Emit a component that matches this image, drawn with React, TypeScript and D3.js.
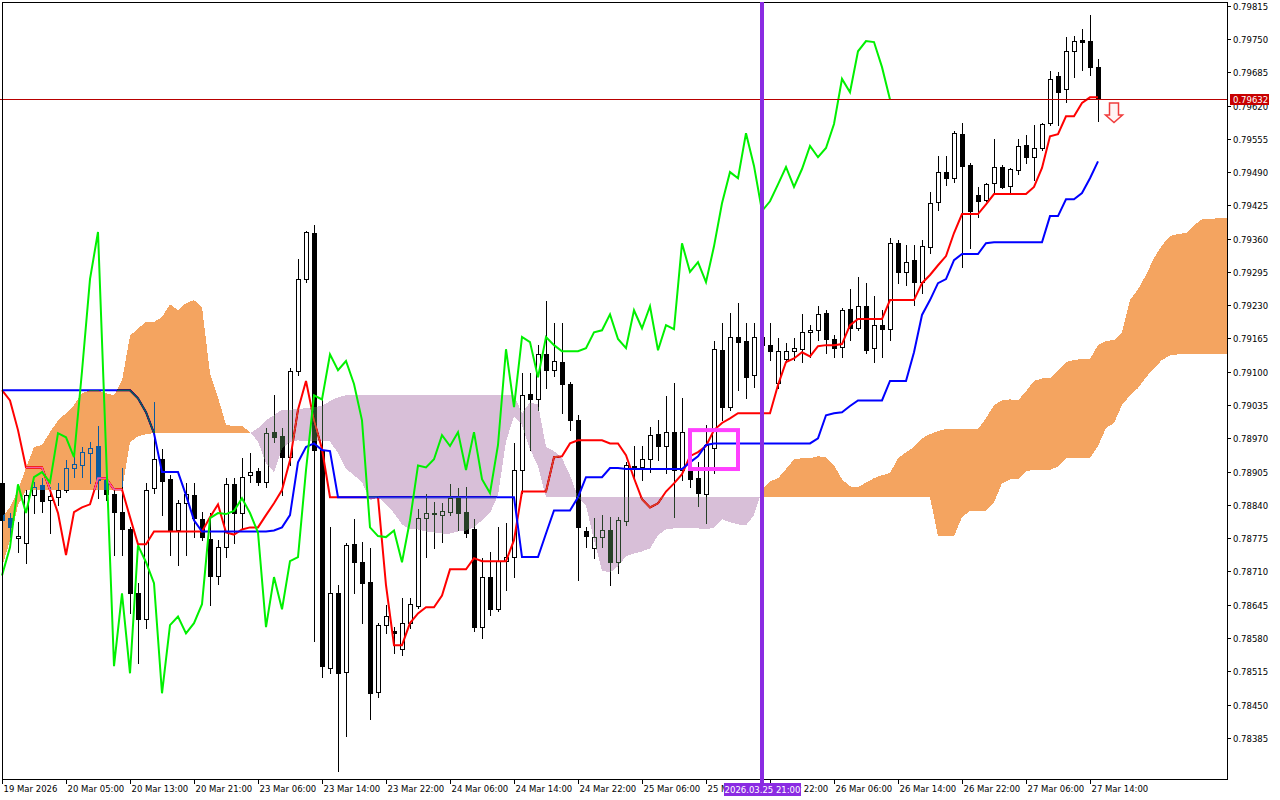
import React from "react";
import * as d3 from "d3";

// ---------- data ----------
const priceTicks = ["0.79815","0.79750","0.79685","0.79620","0.79555","0.79490","0.79425","0.79360","0.79295","0.79230","0.79165","0.79100","0.79035","0.78970","0.78905","0.78840","0.78775","0.78710","0.78645","0.78580","0.78515","0.78450","0.78385"];
const timeTickBars = [0, 8, 16, 24, 32, 40, 48, 56, 64, 72, 80, 88, 96, 104, 112, 120, 128, 136];
const timeTickLabels = ["19 Mar 2026","20 Mar 05:00","20 Mar 13:00","20 Mar 21:00","23 Mar 06:00","23 Mar 14:00","23 Mar 22:00","24 Mar 06:00","24 Mar 14:00","24 Mar 22:00","25 Mar 06:00","25 Mar 14:00","25 Mar 22:00","26 Mar 06:00","26 Mar 14:00","26 Mar 22:00","27 Mar 06:00","27 Mar 14:00"];

const open = [
0.78882,0.78814,0.78775,0.78765,0.78859,0.78878,0.78849,0.78855,0.78870,0.78912,
0.78917,0.78941,0.78955,0.78888,0.78861,0.78826,0.78792,0.78667,0.78618,0.78872,
0.78929,0.78890,0.78790,0.78843,0.78859,0.78812,0.78773,0.78702,0.78757,0.78880,
0.78824,0.78898,0.78906,0.78884,0.78982,0.78974,0.78933,0.79101,0.79281,0.79371,
0.78947,0.78521,0.78667,0.78513,0.78763,0.78728,0.78689,0.78474,0.78605,0.78593,
0.78558,0.78609,0.78642,0.78814,0.78824,0.78820,0.78826,0.78855,0.78826,0.78792,
0.78601,0.78699,0.78636,0.78730,0.78738,0.78908,0.79056,0.79046,0.79134,0.79103,
0.79119,0.79076,0.79005,0.78788,0.78755,0.78777,0.78790,0.78728,0.78808,0.78915,
0.78913,0.78929,0.78978,0.78955,0.78982,0.78908,0.78908,0.78892,0.78861,0.78951,
0.79142,0.79031,0.79168,0.79160,0.79093,0.79168,0.79152,0.79078,0.79125,0.79140,
0.79144,0.79177,0.79181,0.79214,0.79164,0.79148,0.79222,0.79185,0.79228,0.79146,
0.79191,0.79183,0.79351,0.79295,0.79318,0.79275,0.79343,0.79431,0.79490,0.79478,
0.79564,0.79504,0.79445,0.79435,0.79468,0.79500,0.79463,0.79494,0.79543,0.79519,
0.79537,0.79586,0.79678,0.79652,0.79726,0.79748,0.79746,0.79695];
const high = [
0.78888,0.78824,0.78806,0.78869,0.78884,0.78892,0.78874,0.78882,0.78927,0.78935,
0.78953,0.78962,0.78994,0.78896,0.78872,0.78912,0.78796,0.78687,0.78882,0.79040,
0.78949,0.78898,0.78849,0.78882,0.78882,0.78826,0.78824,0.78771,0.78892,0.78892,
0.78931,0.78941,0.78912,0.78990,0.79054,0.78990,0.79107,0.79320,0.79375,0.79386,
0.79044,0.78796,0.78683,0.78765,0.78812,0.78767,0.78755,0.78609,0.78644,0.78601,
0.78659,0.78659,0.78831,0.78861,0.78845,0.78843,0.78880,0.78872,0.78874,0.78812,
0.78736,0.78747,0.78796,0.78804,0.78960,0.79097,0.79097,0.79152,0.79238,0.79195,
0.79195,0.79080,0.79015,0.78796,0.78814,0.78820,0.78816,0.78816,0.78923,0.78955,
0.78955,0.78992,0.79005,0.79052,0.79078,0.79048,0.78927,0.78923,0.78996,0.79160,
0.79195,0.79214,0.79234,0.79195,0.79195,0.79191,0.79195,0.79166,0.79156,0.79166,
0.79212,0.79191,0.79228,0.79220,0.79172,0.79224,0.79261,0.79285,0.79273,0.79248,
0.79220,0.79361,0.79357,0.79347,0.79347,0.79357,0.79451,0.79521,0.79521,0.79570,
0.79586,0.79507,0.79461,0.79468,0.79554,0.79504,0.79498,0.79554,0.79562,0.79582,
0.79586,0.79687,0.79685,0.79754,0.79756,0.79770,0.79797,0.79711];
const low = [
0.78800,0.78777,0.78747,0.78726,0.78824,0.78826,0.78786,0.78839,0.78866,0.78894,
0.78894,0.78882,0.78853,0.78849,0.78742,0.78742,0.78628,0.78532,0.78599,0.78863,
0.78820,0.78742,0.78722,0.78742,0.78777,0.78771,0.78644,0.78685,0.78738,0.78765,
0.78794,0.78884,0.78878,0.78874,0.78962,0.78859,0.78917,0.79093,0.79275,0.78575,
0.78503,0.78511,0.78321,0.78388,0.78667,0.78609,0.78421,0.78464,0.78589,0.78550,
0.78546,0.78599,0.78638,0.78738,0.78755,0.78767,0.78820,0.78790,0.78777,0.78593,
0.78579,0.78624,0.78632,0.78673,0.78699,0.78863,0.78947,0.79026,0.79068,0.79091,
0.79019,0.78986,0.78693,0.78757,0.78736,0.78757,0.78683,0.78706,0.78800,0.78888,
0.78888,0.78904,0.78927,0.78902,0.78816,0.78888,0.78874,0.78837,0.78804,0.78902,
0.79005,0.79026,0.79064,0.79048,0.79070,0.79132,0.79123,0.79068,0.79119,0.79123,
0.79119,0.79128,0.79162,0.79136,0.79128,0.79128,0.79162,0.79181,0.79136,0.79119,
0.79128,0.79162,0.79273,0.79269,0.79230,0.79254,0.79332,0.79416,0.79465,0.79470,
0.79304,0.79341,0.79402,0.79433,0.79447,0.79459,0.79451,0.79486,0.79507,0.79474,
0.79533,0.79582,0.79582,0.79627,0.79676,0.79689,0.79680,0.79590];
const close = [
0.78810,0.78796,0.78779,0.78859,0.78874,0.78847,0.78857,0.78870,0.78912,0.78919,
0.78943,0.78951,0.78888,0.78861,0.78826,0.78792,0.78667,0.78618,0.78870,0.78929,
0.78886,0.78790,0.78843,0.78861,0.78814,0.78777,0.78702,0.78757,0.78880,0.78824,
0.78894,0.78904,0.78884,0.78980,0.78972,0.78933,0.79101,0.79281,0.79373,0.78947,
0.78525,0.78667,0.78511,0.78761,0.78728,0.78687,0.78472,0.78605,0.78622,0.78589,
0.78609,0.78646,0.78814,0.78824,0.78822,0.78828,0.78853,0.78824,0.78786,0.78601,
0.78699,0.78636,0.78730,0.78738,0.78908,0.79054,0.79046,0.79134,0.79103,0.79121,
0.79076,0.79005,0.78796,0.78779,0.78777,0.78790,0.78728,0.78810,0.78917,0.78913,
0.78929,0.78976,0.78955,0.78982,0.78908,0.78982,0.78890,0.78863,0.78957,0.79144,
0.79031,0.79168,0.79158,0.79089,0.79168,0.79152,0.79140,0.79140,0.79140,0.79146,
0.79177,0.79181,0.79212,0.79164,0.79146,0.79220,0.79185,0.79228,0.79142,0.79191,
0.79183,0.79351,0.79295,0.79314,0.79275,0.79345,0.79429,0.79490,0.79478,0.79566,
0.79502,0.79414,0.79433,0.79466,0.79500,0.79461,0.79496,0.79541,0.79519,0.79537,
0.79584,0.79672,0.79646,0.79726,0.79746,0.79744,0.79695,0.79632];

const tenkan = [
0.79064,0.79044,0.78986,0.78913,0.78913,0.78913,0.78869,0.78824,0.78742,0.78826,
0.78835,0.78841,0.78892,0.78892,0.78870,0.78870,0.78816,0.78763,0.78763,0.78788,
0.78788,0.78788,0.78788,0.78788,0.78788,0.78788,0.78816,0.78841,0.78786,0.78782,
0.78792,0.78796,0.78796,0.78820,0.78843,0.78869,0.78927,0.79026,0.79082,0.79005,
0.78949,0.78855,0.78855,0.78855,0.78855,0.78855,0.78855,0.78855,0.78683,0.78566,
0.78566,0.78609,0.78628,0.78640,0.78640,0.78663,0.78714,0.78714,0.78714,0.78736,
0.78730,0.78730,0.78730,0.78730,0.78771,0.78866,0.78866,0.78866,0.78866,0.78933,
0.78935,0.78960,0.78966,0.78966,0.78966,0.78966,0.78960,0.78960,0.78937,0.78892,
0.78851,0.78835,0.78843,0.78866,0.78882,0.78900,0.78935,0.78943,0.78955,0.78986,
0.79000,0.79009,0.79019,0.79019,0.79019,0.79019,0.79019,0.79074,0.79119,0.79126,
0.79138,0.79130,0.79150,0.79152,0.79152,0.79154,0.79191,0.79203,0.79203,0.79203,
0.79203,0.79240,0.79240,0.79240,0.79240,0.79273,0.79289,0.79308,0.79326,0.79371,
0.79408,0.79408,0.79408,0.79427,0.79447,0.79447,0.79447,0.79447,0.79447,0.79461,
0.79498,0.79560,0.79564,0.79599,0.79599,0.79625,0.79636,0.79636];
const kijun = [
0.79064,0.79064,0.79064,0.79064,0.79064,0.79064,0.79064,0.79064,0.79064,0.79064,
0.79064,0.79064,0.79064,0.79064,0.79064,0.79064,0.79064,0.79048,0.79021,0.78980,
0.78904,0.78904,0.78904,0.78859,0.78810,0.78788,0.78788,0.78788,0.78788,0.78788,
0.78788,0.78788,0.78788,0.78788,0.78790,0.78796,0.78820,0.78923,0.78953,0.78960,
0.78947,0.78945,0.78855,0.78855,0.78855,0.78855,0.78855,0.78855,0.78855,0.78855,
0.78855,0.78855,0.78855,0.78855,0.78855,0.78855,0.78855,0.78855,0.78855,0.78855,
0.78855,0.78855,0.78855,0.78855,0.78855,0.78738,0.78738,0.78738,0.78784,0.78829,
0.78829,0.78829,0.78855,0.78894,0.78894,0.78894,0.78912,0.78912,0.78910,0.78910,
0.78910,0.78910,0.78910,0.78910,0.78910,0.78910,0.78923,0.78935,0.78957,0.78960,
0.78960,0.78960,0.78960,0.78960,0.78960,0.78960,0.78960,0.78960,0.78960,0.78960,
0.78960,0.78960,0.78970,0.79015,0.79019,0.79021,0.79033,0.79044,0.79044,0.79044,
0.79044,0.79082,0.79082,0.79082,0.79138,0.79211,0.79240,0.79273,0.79281,0.79318,
0.79330,0.79330,0.79330,0.79351,0.79353,0.79353,0.79353,0.79353,0.79353,0.79353,
0.79353,0.79404,0.79404,0.79437,0.79437,0.79449,0.79478,0.79511];
const spanA = [
0.78816,0.78835,0.78869,0.78912,0.78953,0.78957,0.78982,0.79005,0.79019,0.79035,
0.79058,0.79064,0.79064,0.79058,0.79054,0.79083,0.79170,0.79185,0.79197,0.79197,
0.79207,0.79232,0.79220,0.79234,0.79240,0.79226,0.79097,0.79050,0.78996,0.78994,
0.78994,0.78982,0.78964,0.78921,0.78904,0.78951,0.78962,0.78966,0.78964,0.78964,
0.78964,0.78964,0.78941,0.78910,0.78898,0.78884,0.78849,0.78855,0.78841,0.78824,
0.78802,0.78792,0.78792,0.78788,0.78786,0.78784,0.78784,0.78788,0.78790,0.78796,
0.78810,0.78824,0.78859,0.78964,0.79013,0.78996,0.78949,0.78915,0.78855,0.78855,
0.78855,0.78855,0.78855,0.78839,0.78771,0.78712,0.78708,0.78720,0.78740,0.78745,
0.78749,0.78755,0.78781,0.78792,0.78794,0.78794,0.78794,0.78794,0.78792,0.78796,
0.78812,0.78806,0.78802,0.78800,0.78820,0.78869,0.78886,0.78892,0.78910,0.78929,
0.78931,0.78931,0.78935,0.78933,0.78917,0.78890,0.78876,0.78874,0.78884,0.78892,
0.78898,0.78902,0.78931,0.78943,0.78953,0.78970,0.78978,0.78984,0.78988,0.78988,
0.78988,0.78988,0.78988,0.79009,0.79035,0.79044,0.79046,0.79044,0.79062,0.79082,
0.79087,0.79087,0.79103,0.79119,0.79123,0.79125,0.79125,0.79152,0.79160,0.79162,
0.79177,0.79240,0.79261,0.79289,0.79322,0.79347,0.79365,0.79369,0.79371,0.79386,
0.79398,0.79398,0.79400,0.79400,0.79400];
const spanB = [
0.78718,0.78771,0.78839,0.78869,0.78869,0.78869,0.78869,0.78869,0.78869,0.78869,
0.78869,0.78869,0.78869,0.78869,0.78869,0.78869,0.78962,0.78974,0.78978,0.78980,
0.78980,0.78980,0.78980,0.78980,0.78980,0.78980,0.78980,0.78980,0.78980,0.78980,
0.78980,0.78980,0.78990,0.79005,0.79015,0.79026,0.79026,0.79027,0.79029,0.79031,
0.79033,0.79043,0.79050,0.79054,0.79054,0.79054,0.79054,0.79054,0.79054,0.79054,
0.79054,0.79054,0.79054,0.79054,0.79054,0.79054,0.79054,0.79054,0.79054,0.79054,
0.79054,0.79054,0.79054,0.79054,0.79054,0.79019,0.79040,0.79036,0.78953,0.78945,
0.78931,0.78898,0.78855,0.78855,0.78855,0.78855,0.78855,0.78855,0.78855,0.78855,
0.78855,0.78855,0.78855,0.78855,0.78855,0.78855,0.78855,0.78855,0.78855,0.78855,
0.78855,0.78855,0.78855,0.78855,0.78855,0.78855,0.78855,0.78855,0.78855,0.78855,
0.78855,0.78855,0.78855,0.78855,0.78855,0.78855,0.78855,0.78855,0.78855,0.78855,
0.78855,0.78855,0.78855,0.78855,0.78855,0.78855,0.78855,0.78779,0.78779,0.78779,
0.78816,0.78828,0.78828,0.78828,0.78845,0.78882,0.78890,0.78890,0.78906,0.78908,
0.78908,0.78908,0.78915,0.78931,0.78931,0.78931,0.78931,0.78955,0.78990,0.79000,
0.79035,0.79054,0.79068,0.79089,0.79107,0.79123,0.79132,0.79134,0.79134,0.79134,
0.79134,0.79134,0.79134,0.79134,0.79134];
const chikouShift = 26;

const bidPrice = 0.79632;
const bidLabel = "0.79632";
const markerBar = 95;
const markerLabel = "2026.03.25 21:00";
const boxBars = [86, 92];
const boxPrices = [0.78910, 0.78986];
const arrowBar = 139;
const arrowPrice = 0.79625;

// ---------- layout ----------
const W = 1280, H = 800;
const plotL = 2, plotR = 1227, plotT = 2, plotB = 779;
const FONT = "'DejaVu Sans', sans-serif";

const x = d3.scaleLinear().domain([0, 137]).range([2, 1098]);
const y = d3.scaleLinear().domain([0.78385, 0.79815]).range([737.8, 5.7]);

type Run = { bull: boolean; pts: [number, number, number][] };
function cloudRuns(a: number[], b: number[]): Run[] {
  const runs: Run[] = [];
  let cur: Run | null = null;
  for (let i = 0; i < a.length; i++) {
    const xi = x(i), ya = y(a[i]), yb = y(b[i]);
    if (!cur) {
      cur = { bull: a[i] >= b[i], pts: [[xi, ya, yb]] };
      runs.push(cur);
      continue;
    }
    const sign = a[i] > b[i] ? true : a[i] < b[i] ? false : cur.bull;
    if (sign !== cur.bull) {
      const d0 = a[i - 1] - b[i - 1], d1 = a[i] - b[i];
      const t = d0 - d1 === 0 ? 0 : d0 / (d0 - d1);
      const xm = x(i - 1) + t * (xi - x(i - 1));
      const ym = y(a[i - 1] + t * (a[i] - a[i - 1]));
      cur.pts.push([xm, ym, ym]);
      cur = { bull: sign, pts: [[xm, ym, ym], [xi, ya, yb]] };
      runs.push(cur);
    } else cur.pts.push([xi, ya, yb]);
  }
  return runs;
}

function runPath(r: Run) {
  const top = r.pts.map((p) => `${p[0]},${p[1]}`);
  const bot = r.pts.slice().reverse().map((p) => `${p[0]},${p[2]}`);
  return "M" + top.join("L") + "L" + bot.join("L") + "Z";
}

const lineGen = d3.line<number>().x((_, i) => x(i)).y((d) => y(d));

export default function App() {
  const runs = cloudRuns(spanA, spanB);
  const chikou = close.slice(chikouShift);
  const bidY = Math.round(y(bidPrice)) + 0.5;
  const mx = Math.round(x(markerBar));
  const bx0 = x(boxBars[0]), bx1 = x(boxBars[1]);
  const by0 = y(boxPrices[1]), by1 = y(boxPrices[0]);
  const ax = x(arrowBar), ay = y(arrowPrice);

  return (
    <svg width={W} height={H} style={{ position: "absolute", left: 0, top: 0, display: "block" }} fontFamily={FONT}>
      <defs>
        <clipPath id="plot">
          <rect x={0} y={plotT} width={plotR} height={plotB - plotT} />
        </clipPath>
      </defs>
      <rect x={0} y={0} width={W} height={H} fill="#ffffff" />
      <g clipPath="url(#plot)">
        {/* white backdrop inside the isolated group so the cloud inverts correctly */}
        <rect x={0} y={0} width={W} height={H} fill="#ffffff" />
        {/* candles */}
        <g>
          {open.map((o, i) => {
            const cx = Math.round(x(i));
            const c = close[i];
            const yo = Math.round(y(o)), yc = Math.round(y(c));
            const yh = Math.round(y(high[i])), yl = Math.round(y(low[i]));
            const top = Math.min(yo, yc), bot = Math.max(yo, yc);
            const bull = c >= o;
            return (
              <g key={i}>
                <line x1={cx + 0.5} x2={cx + 0.5} y1={yh} y2={yl + 1} stroke="#000" strokeWidth={1} shapeRendering="crispEdges" />
                {bull ? (
                  <rect x={cx - 1.5} y={top + 0.5} width={4} height={Math.max(bot - top, 1)} fill="#fff" stroke="#000" strokeWidth={1} shapeRendering="crispEdges" />
                ) : (
                  <rect x={cx - 2} y={top} width={5} height={Math.max(bot - top + 1, 2)} fill="#000" shapeRendering="crispEdges" />
                )}
              </g>
            );
          })}
        </g>
        {/* tenkan & kijun */}
        <path d={lineGen(tenkan) || ""} fill="none" stroke="#ff0000" strokeWidth={2} />
        <path d={lineGen(kijun) || ""} fill="none" stroke="#0000ff" strokeWidth={2} />
        {/* kumo cloud, drawn inverting like the terminal */}
        <g style={{ mixBlendMode: "difference" }}>
          {runs.map((r, i) => (
            <path key={i} d={runPath(r)} fill={r.bull ? "#0b5b9f" : "#274027"} shapeRendering="crispEdges" />
          ))}
        </g>
        {/* chikou */}
        <path d={lineGen(chikou) || ""} fill="none" stroke="#00f000" strokeWidth={2} />
        {/* bid line */}
        <line x1={0} x2={plotR} y1={bidY} y2={bidY} stroke="#b80000" strokeWidth={1} />
        {/* rectangle */}
        <rect x={bx0} y={by0} width={bx1 - bx0} height={by1 - by0} fill="none" stroke="#ff40ff" strokeWidth={4} />
        {/* arrow */}
        <path
          d={`M${ax - 4.5},${ay} H${ax + 4.5} V${ay + 12} H${ax + 8.5} L${ax},${ay + 19.5} L${ax - 8.5},${ay + 12} H${ax - 4.5} Z`}
          fill="#fff4f4" stroke="#f03c3c" strokeWidth={1.5}
        />
      </g>
      {/* frame */}
      <rect x={plotL + 0.5} y={plotT + 0.5} width={plotR - plotL} height={plotB - plotT} fill="none" stroke="#000" strokeWidth={1} shapeRendering="crispEdges" />
      {/* price axis */}
      <g fontSize={8.5} fill="#000">
        {priceTicks.map((t) => {
          const ty = Math.round(y(+t)) + 0.5;
          return (
            <g key={t}>
              <line x1={plotR} x2={plotR + 4} y1={ty} y2={ty} stroke="#000" shapeRendering="crispEdges" />
              <text x={plotR + 6} y={ty} dominantBaseline="central">{t}</text>
            </g>
          );
        })}
      </g>
      {/* bid label */}
      <rect x={plotR + 3} y={bidY - 5.5} width={39} height={11} fill="#c80000" />
      <text x={plotR + 6} y={bidY} dominantBaseline="central" fontSize={8.5} fill="#fff">{bidLabel}</text>
      {/* time axis */}
      <g fontSize={8.5} fill="#000">
        {timeTickBars.map((b, i) => {
          const tx = Math.round(x(b)) + 0.5;
          return (
            <g key={b}>
              <line x1={tx} x2={tx} y1={plotB} y2={plotB + 5} stroke="#000" shapeRendering="crispEdges" />
              <text x={tx + 1} y={plotB + 13}>{timeTickLabels[i]}</text>
            </g>
          );
        })}
      </g>
      {/* vertical marker line */}
      <rect x={mx - 2} y={plotT} width={4} height={plotB - plotT + 4} fill="#8a2be2" />
      <rect x={mx - 38} y={plotB + 4} width={77} height={13} fill="#8a2be2" />
      <text x={mx + 0.5} y={plotB + 10.5} dominantBaseline="central" textAnchor="middle" fontSize={8.5} fill="#fff">{markerLabel}</text>
    </svg>
  );
}
